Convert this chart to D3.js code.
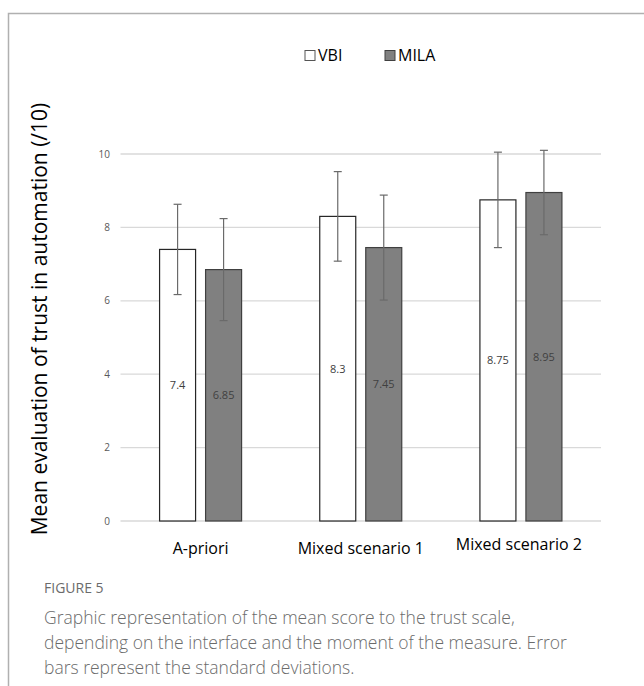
<!DOCTYPE html>
<html><head><meta charset="utf-8">
<script src="https://cdn.jsdelivr.net/npm/d3@7"></script>
<style>body{margin:0;background:#fff}svg{display:block}</style>
</head><body>
<svg id="c" width="644" height="686"></svg>
<script>
const categories = ["A-priori", "Mixed scenario 1", "Mixed scenario 2"];
const seriesNames = ["VBI", "MILA"];
const vbiMeans = [7.4, 8.3, 8.75];
const milaMeans = [6.85, 7.45, 8.95];
const vbiSD = [1.23, 1.22, 1.3];
const milaSD = [1.39, 1.43, 1.15];
const yTicks = [0, 2, 4, 6, 8, 10];
const yTitle = "Mean evaluation of trust in automation (/10)";
const captionLabel = "FIGURE 5";
const captionLines = ["Graphic representation of the mean score to the trust scale,",
  "depending on the interface and the moment of the measure. Error",
  "bars represent the standard deviations."];

const svg = d3.select("#c");
// frame
svg.append("path").attr("d", "M8.5,686 V13.5 H644").attr("fill", "none").attr("stroke", "#b0b0b0").attr("stroke-width", 1.5);

const L = 120.5, R = 601, T = 154, B = 521;
const y = d3.scaleLinear().domain([0, 10]).range([B, T]);
const x0 = d3.scaleBand().domain(categories).range([L, R]).paddingInner(0).paddingOuter(0);
const x1 = d3.scaleBand().domain(seriesNames).range([x0.bandwidth()/2 - 41, x0.bandwidth()/2 + 41]).paddingInner(10/46);

const fills = {VBI: "#ffffff", MILA: "#808080"};
const strokes = {VBI: "#262626", MILA: "#404040"};

// gridlines
svg.append("g").selectAll("line").data(yTicks).join("line")
  .attr("x1", L).attr("x2", R).attr("y1", d => y(d)).attr("y2", d => y(d))
  .attr("stroke", "#d9d9d9").attr("stroke-width", 1.3);

// y tick labels
svg.append("g").selectAll("text").data(yTicks).join("text")
  .attr("x", 110).attr("y", d => y(d)).attr("dy", "0.35em").attr("text-anchor", "end")
  .attr("font-family", "Open Sans, sans-serif").attr("font-size", 10).attr("fill", "#595959")
  .text(d => d);

const data = [];
categories.forEach((c, i) => {
  data.push({cat: c, s: "VBI", v: vbiMeans[i], sd: vbiSD[i]});
  data.push({cat: c, s: "MILA", v: milaMeans[i], sd: milaSD[i]});
});

const g = svg.append("g");
g.selectAll("rect").data(data).join("rect")
  .attr("x", d => x0(d.cat) + x1(d.s))
  .attr("y", d => y(d.v))
  .attr("width", x1.bandwidth())
  .attr("height", d => B - y(d.v))
  .attr("fill", d => fills[d.s]).attr("stroke", d => strokes[d.s]).attr("stroke-width", 1.2);

// value labels
g.selectAll("text.val").data(data).join("text").attr("class", "val")
  .attr("x", d => x0(d.cat) + x1(d.s) + x1.bandwidth()/2)
  .attr("y", d => y(d.v/2)).attr("dy", "0.35em").attr("text-anchor", "middle")
  .attr("font-family", "Open Sans, sans-serif").attr("font-size", 11)
  .attr("fill", "#404040").text(d => d.v);

// error bars
const eb = g.selectAll("g.eb").data(data).join("g").attr("class", "eb")
  .attr("stroke", "#6a6a6a").attr("stroke-width", 1.2);
eb.append("line")
  .attr("x1", d => x0(d.cat) + x1(d.s) + x1.bandwidth()/2)
  .attr("x2", d => x0(d.cat) + x1(d.s) + x1.bandwidth()/2)
  .attr("y1", d => y(d.v + d.sd)).attr("y2", d => y(d.v - d.sd));
[1, -1].forEach(sg => {
  eb.append("line")
    .attr("x1", d => x0(d.cat) + x1(d.s) + x1.bandwidth()/2 - 4)
    .attr("x2", d => x0(d.cat) + x1(d.s) + x1.bandwidth()/2 + 4)
    .attr("y1", d => y(d.v + sg*d.sd)).attr("y2", d => y(d.v + sg*d.sd));
});

// category labels
svg.append("g").selectAll("text").data(categories).join("text")
  .attr("x", (d, i) => x0(d) + x0.bandwidth()/2 - (i === 2 ? 2 : 0))
  .attr("y", (d, i) => i === 2 ? 550 : 554).attr("text-anchor", "middle")
  .attr("font-family", "Open Sans, sans-serif").attr("font-size", 16).attr("fill", "#000")
  .text(d => d);

// y title
svg.append("text").attr("transform", "translate(47,319) rotate(-90)")
  .attr("text-anchor", "middle").attr("font-family", "Open Sans, sans-serif")
  .attr("font-size", 21).attr("fill", "#000").text(yTitle);

// legend
const leg = svg.append("g").attr("font-family", "Open Sans, sans-serif").attr("font-size", 16);
const legX = [305, 385];
seriesNames.forEach((s, i) => {
  leg.append("rect").attr("x", legX[i]).attr("y", 50.5).attr("width", 10).attr("height", 10)
    .attr("fill", fills[s]).attr("stroke", s === "VBI" ? "#555" : "#404040").attr("stroke-width", 1);
  leg.append("text").attr("x", legX[i] + 13).attr("y", 61).attr("fill", "#000").text(s);
});

// caption
svg.append("text").attr("x", 44).attr("y", 593).attr("font-family", "Open Sans, sans-serif")
  .attr("font-size", 14).attr("fill", "#6b6b6b").text(captionLabel);
svg.append("g").selectAll("text").data(captionLines).join("text")
  .attr("x", 44).attr("y", (d, i) => 624 + i*25)
  .attr("font-family", "Open Sans, sans-serif").attr("font-size", 17.5).attr("font-weight", 300)
  .attr("fill", "#6b6b6b").text(d => d);
</script>
</body></html>
